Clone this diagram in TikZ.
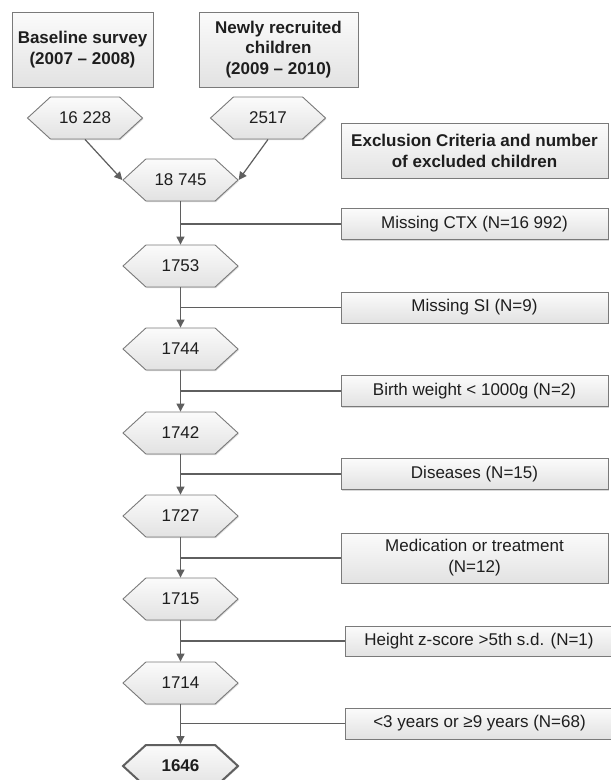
\documentclass[tikz,border=0pt]{standalone}
\usepackage{fontspec}
\setmainfont{Liberation Sans}
\usetikzlibrary{shapes.symbols,arrows.meta,shadows}
\definecolor{linecol}{HTML}{5F5F5F}
\definecolor{boxline}{HTML}{7A7A7A}
\definecolor{txt}{HTML}{1E1E1E}
\definecolor{topc}{HTML}{FBFBFB}
\definecolor{botc}{HTML}{E2E2E2}
\begin{document}
\begin{tikzpicture}[x=1pt,y=-1pt,
  every node/.style={font=\fontsize{17}{21}\selectfont, text=txt},
  boxbase/.style={draw=boxline, line width=0.9pt, top color=topc, bottom color=botc, align=center, inner sep=0pt,
     drop shadow={shadow xshift=1pt, shadow yshift=-1pt, opacity=0.3}},
  exbox/.style={boxbase, minimum width=267pt, minimum height=31pt},
  hexnode/.style={signal, signal to=west and east, signal pointer angle=85, draw=boxline, line width=0.9pt,
     top color=topc, bottom color=botc, minimum width=115pt, minimum height=42pt, inner sep=0pt,
     drop shadow={shadow xshift=1pt, shadow yshift=-1pt, opacity=0.3}},
  conn/.style={draw=linecol, line width=1.2pt},
  arr/.style={conn, -{Triangle[width=8pt,length=8pt]}, fill=linecol}
]
\useasboundingbox (0,0) rectangle (611,780);
\clip (0,0) rectangle (611,780);
\fill[white] (0,0) rectangle (611,780);

% top source boxes
\node[boxbase, font=\bfseries\fontsize{17}{21}\selectfont, minimum width=141pt, minimum height=75pt] (base) at (82.5,49.5) {Baseline survey\\(2007 – 2008)};
\node[boxbase, font=\bfseries\fontsize{17}{20.5}\selectfont, minimum width=159pt, minimum height=75pt] (newly) at (278.5,49.5) {Newly recruited\\children\\(2009 – 2010)};

% header of exclusions
\node[boxbase, font=\bfseries\fontsize{17}{21}\selectfont, minimum width=267pt, minimum height=55pt] (head) at (474.5,150.5) {Exclusion Criteria and number\\of excluded children};

% hexagons
\node[hexnode] (h1) at (85,118) {16 228};
\node[hexnode] (h2) at (268,118) {2517};
\node[hexnode] (m0) at (180.5,180) {18 745};
\node[hexnode] (m1) at (180.5,266) {1753};
\node[hexnode] (m2) at (180.5,349) {1744};
\node[hexnode] (m3) at (180.5,433) {1742};
\node[hexnode] (m4) at (180.5,516) {1727};
\node[hexnode] (m5) at (180.5,599) {1715};
\node[hexnode] (m6) at (180.5,683) {1714};
\node[hexnode, draw=linecol, line width=2pt, font=\bfseries\fontsize{17}{21}\selectfont] (m7) at (180.5,766) {1646};

% exclusion boxes
\node[exbox] (e1) at (474.5,224) {Missing CTX (N=16 992)};
\node[exbox] (e2) at (474.5,307.5) {Missing SI (N=9)};
\node[exbox] (e3) at (474.5,391) {Birth weight < 1000g (N=2)};
\node[exbox] (e4) at (474.5,474) {Diseases (N=15)};
\node[exbox, minimum height=50pt] (e5) at (474.5,558) {Medication or treatment\\(N=12)};
\node[exbox, minimum width=268pt, minimum height=30pt] (e6) at (479,641) {Height z-score >5th s.d. (N=1)};
\node[exbox, minimum width=268pt] (e7) at (479.5,723.5) {<3 years or ≥9 years (N=68)};

% connectors
\draw[arr] (h1.south) -- (m0.west);
\draw[arr] (h2.south) -- (m0.east);
\foreach \a/\b in {m0/m1,m1/m2,m2/m3,m3/m4,m4/m5,m5/m6,m6/m7}{
  \draw[arr] (\a.south) -- (\b.north);
}
\foreach \e/\m in {e1/m0,e2/m1,e3/m2,e4/m3,e5/m4,e6/m5,e7/m6}{
  \draw[conn] (\e.west) -- (\e.west -| \m.south);
}
\end{tikzpicture}
\end{document}
